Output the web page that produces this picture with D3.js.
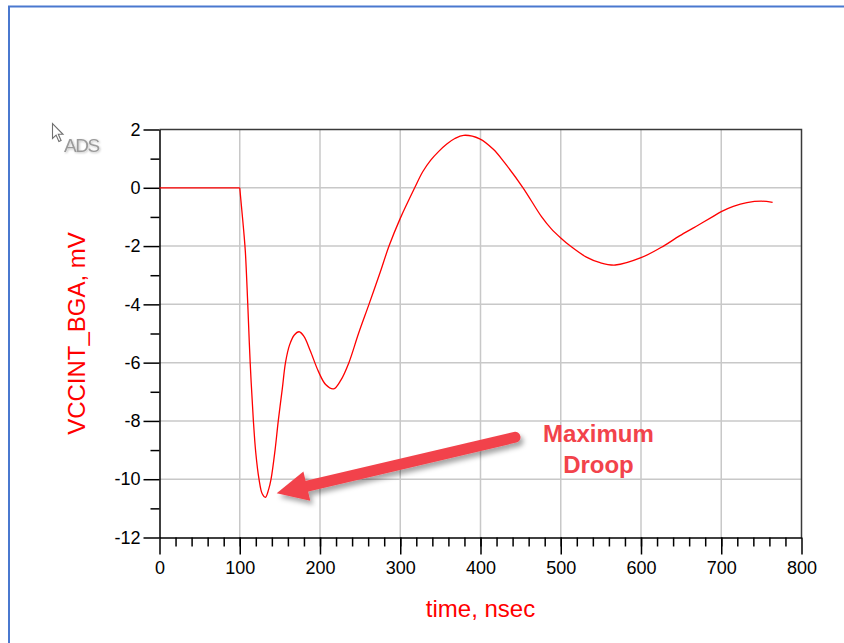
<!DOCTYPE html>
<html>
<head>
<meta charset="utf-8">
<script src="https://cdn.jsdelivr.net/npm/d3@7"></script>
<style>
  body { margin: 0; background: #fff; }
  svg { display: block; font-family: Arial, "Liberation Sans", sans-serif; }
  .grid line { stroke: #c8c8c8; stroke-width: 1.5; }
  .axis path, .axis line { stroke: #000; stroke-width: 1.5; }
  .axis text { font-size: 18px; fill: #000; }
</style>
</head>
<body>
<script>
// time (nsec) and VCCINT_BGA (mV)
const timeNs = [0, 100, 102, 105, 107, 110, 113, 117, 120, 124, 128, 132, 136, 139, 144, 148,
  153, 157, 162, 168, 174, 180, 188, 198, 207, 217, 226, 236, 248, 261, 275, 286, 300, 318,
  328, 338, 348, 358, 368, 379, 399, 416, 430, 453, 476, 488, 500, 512, 532, 549, 568, 600, 628,
  648, 669, 690, 700, 715, 732, 750, 764];
const vccMv = [0, 0, -0.6, -1.5, -2.2, -4, -6, -8, -9.1, -10, -10.5, -10.62, -10.35, -10, -9, -8,
  -6.9, -6, -5.4, -5.05, -4.94, -5.1, -5.6, -6.3, -6.75, -6.9, -6.6, -6, -5, -4, -2.9, -2, -1.05,
  0, 0.55, 0.95, 1.25, 1.5, 1.69, 1.8, 1.68, 1.32, 0.86, 0, -0.99, -1.4, -1.72, -2, -2.38, -2.57,
  -2.65, -2.4, -2, -1.65, -1.32, -0.98, -0.82, -0.64, -0.51, -0.46, -0.5];

const xTicks = [0, 100, 200, 300, 400, 500, 600, 700, 800];
const yTicks = [-12, -10, -8, -6, -4, -2, 0, 2];

// annotation, in data units
const arrowTip = [146, -10.48];
const arrowTail = [443, -8.56];
const noteLines = ['Maximum', 'Droop'];
const noteX = 547;
const noteY = [-8.71, -9.77];

const W = 844, H = 643;
const margin = { top: 129.5, right: 42.5, bottom: 105.5, left: 159.5 };
const width = W - margin.left - margin.right;
const height = H - margin.top - margin.bottom;

const x = d3.scaleLinear().domain([0, 800]).range([0, width]);
const y = d3.scaleLinear().domain([-12, 2]).range([height, 0]);

const svg = d3.select('body').append('svg')
  .attr('width', W)
  .attr('height', H);

const defs = svg.append('defs');
defs.append('filter')
  .attr('id', 'shadow')
  .attr('x', '-20%').attr('y', '-50%')
  .attr('width', '140%').attr('height', '200%')
  .append('feDropShadow')
  .attr('dx', 3).attr('dy', 4)
  .attr('stdDeviation', 2.5)
  .attr('flood-color', '#000')
  .attr('flood-opacity', 0.35);
defs.append('filter')
  .attr('id', 'soft')
  .append('feDropShadow')
  .attr('dx', 1).attr('dy', 1)
  .attr('stdDeviation', 0.8)
  .attr('flood-color', '#000')
  .attr('flood-opacity', 0.25);

// blue frame of the screenshot
svg.append('path')
  .attr('d', `M9,${H} L9,6.5 L${W},6.5`)
  .attr('fill', 'none')
  .attr('stroke', '#4a78cf')
  .attr('stroke-width', 2);

// ADS cursor logo
svg.append('path')
  .attr('transform', 'translate(52.5,123.5)')
  .attr('d', 'M0,0 L0,15 L3.6,11.6 L6.4,18 L8.6,17 L5.8,10.8 L10.5,10.8 Z')
  .attr('fill', '#fff')
  .attr('stroke', '#707070')
  .attr('stroke-width', 1.1);
svg.append('text')
  .attr('x', 64)
  .attr('y', 152)
  .attr('font-size', '19px')
  .attr('fill', '#9a9a9a')
  .attr('letter-spacing', '-1.5px')
  .attr('filter', 'url(#soft)')
  .text('ADS');

const g = svg.append('g')
  .attr('transform', `translate(${margin.left},${margin.top})`);

// grid
g.append('g').attr('class', 'grid')
  .selectAll('line').data(xTicks.slice(1, -1)).join('line')
  .attr('x1', d => x(d)).attr('x2', d => x(d))
  .attr('y1', 0).attr('y2', height);
g.append('g').attr('class', 'grid')
  .selectAll('line').data(yTicks.slice(1, -1)).join('line')
  .attr('x1', 0).attr('x2', width)
  .attr('y1', d => y(d)).attr('y2', d => y(d));

// top and right border
g.append('path')
  .attr('d', `M0,0 L${width},0 L${width},${height}`)
  .attr('fill', 'none')
  .attr('stroke', '#3a3a3a')
  .attr('stroke-width', 1.5);

// minor ticks
g.append('g').attr('class', 'axis')
  .attr('transform', `translate(0,${height})`)
  .call(d3.axisBottom(x).tickValues(d3.range(20, 800, 20)).tickSize(9).tickFormat(''))
  .call(a => a.select('.domain').remove());
g.append('g').attr('class', 'axis')
  .call(d3.axisLeft(y).tickValues(d3.range(-11, 2, 2)).tickSize(9).tickFormat(''))
  .call(a => a.select('.domain').remove());

// major axes
g.append('g').attr('class', 'axis')
  .attr('transform', `translate(0,${height})`)
  .call(d3.axisBottom(x).tickValues(xTicks).tickSize(17).tickSizeOuter(0).tickPadding(7));
g.append('g').attr('class', 'axis')
  .call(d3.axisLeft(y).tickValues(yTicks).tickSize(16).tickSizeOuter(0).tickPadding(3)
    .tickFormat(d => String(d)));

// the waveform: flat start drawn straight, the rest smoothed
const pts = timeNs.map((t, i) => [x(t), y(vccMv[i])]);

g.append('path')
  .datum(pts.slice(0, 2))
  .attr('fill', 'none')
  .attr('stroke', '#ff0000')
  .attr('stroke-width', 1.3)
  .attr('d', d3.line());

g.append('path')
  .datum(pts.slice(1))
  .attr('fill', 'none')
  .attr('stroke', '#ff0000')
  .attr('stroke-width', 1.3)
  .attr('d', d3.line().curve(d3.curveCatmullRom.alpha(0.5)));

// axis titles
svg.append('text')
  .attr('transform', `translate(85,${margin.top + height / 2}) rotate(-90)`)
  .attr('text-anchor', 'middle')
  .attr('font-size', '24px')
  .attr('fill', '#ff0000')
  .text('VCCINT_BGA, mV');

svg.append('text')
  .attr('x', margin.left + width / 2)
  .attr('y', 617)
  .attr('text-anchor', 'middle')
  .attr('font-size', '24px')
  .attr('fill', '#ff0000')
  .text('time, nsec');

// "Maximum Droop" callout arrow
const tip = [x(arrowTip[0]), y(arrowTip[1])];
const tail = [x(arrowTail[0]), y(arrowTail[1])];
const dx = tip[0] - tail[0], dy = tip[1] - tail[1];
const len = Math.hypot(dx, dy);
const ux = dx / len, uy = dy / len;
const headLen = 31, headHalf = 15;
const base = [tip[0] - ux * headLen, tip[1] - uy * headLen];

const arrow = g.append('g')
  .attr('filter', 'url(#shadow)');
arrow.append('line')
  .attr('x1', tail[0]).attr('y1', tail[1])
  .attr('x2', base[0] + ux * 4).attr('y2', base[1] + uy * 4)
  .attr('stroke', '#f2434b')
  .attr('stroke-width', 11)
  .attr('stroke-linecap', 'round');
arrow.append('path')
  .attr('d', `M${tip[0]},${tip[1]}`
    + `L${base[0] - uy * headHalf},${base[1] + ux * headHalf}`
    + `L${base[0] + uy * headHalf},${base[1] - ux * headHalf}Z`)
  .attr('fill', '#f2434b');

g.selectAll('.note').data(noteLines).join('text')
  .attr('class', 'note')
  .attr('x', x(noteX))
  .attr('y', (d, i) => y(noteY[i]))
  .attr('text-anchor', 'middle')
  .attr('font-size', '24px')
  .attr('font-weight', 'bold')
  .attr('fill', '#f2434b')
  .text(d => d);
</script>
</body>
</html>
